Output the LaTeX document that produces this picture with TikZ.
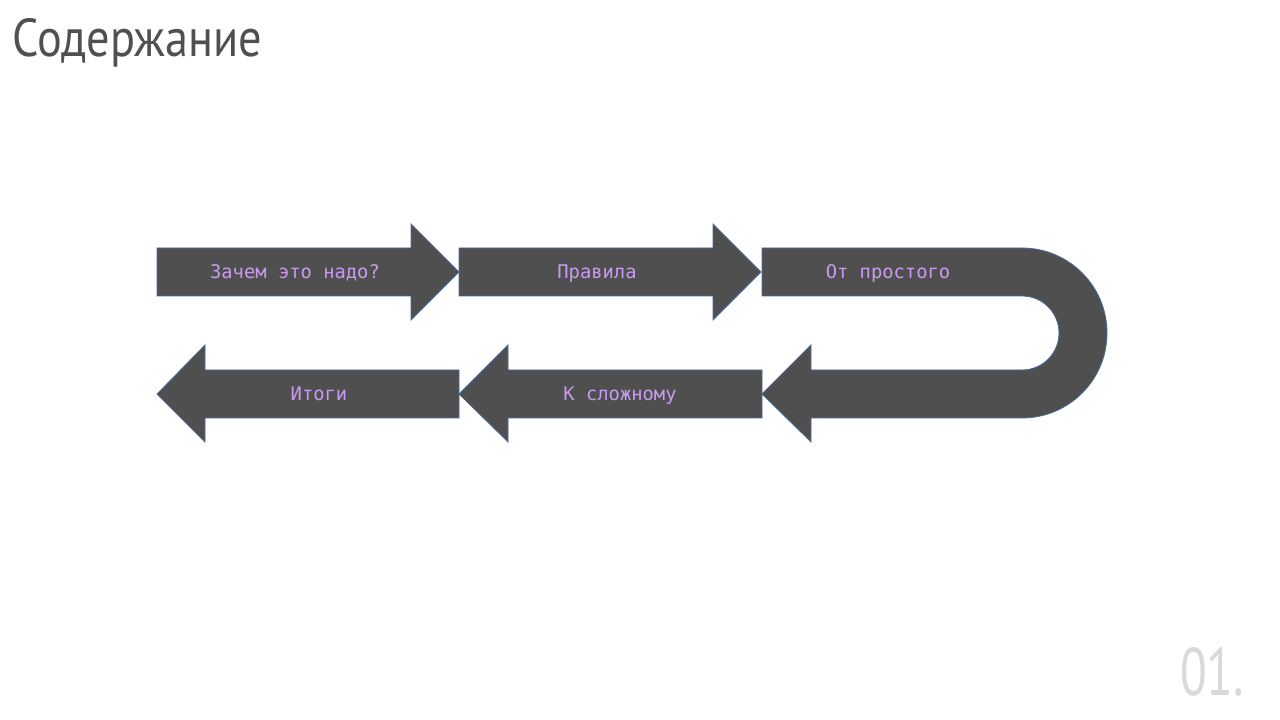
\documentclass[tikz,border=0pt]{standalone}
\usepackage{fontspec}
\usepackage{graphicx}
\setmainfont{PT Sans}
\newfontfamily\labelfont{DejaVu Sans Mono}
\definecolor{bandfill}{HTML}{4F4F4F}
\definecolor{bandedge}{HTML}{4A6A9C}
\definecolor{labeltext}{HTML}{C79CF0}
\definecolor{titletext}{HTML}{505050}
\definecolor{pagetext}{HTML}{D9D9D9}
\tikzset{
  band/.style={fill=bandfill, draw=bandedge, line width=0.8pt, line join=miter},
  steplabel/.style={font=\labelfont\fontsize{18.8}{20}\selectfont, text=labeltext,
    inner sep=0pt, anchor=base},
}
\begin{document}
\begin{tikzpicture}[x=1pt,y=1pt]
  \useasboundingbox (0,0) rectangle (1280,720);
  \fill[white] (0,0) rectangle (1280,720);

  % title and page number
  \node[anchor=base west, inner sep=0pt, text=titletext] (title) at (12,663)
    {\resizebox{250pt}{38pt}{Содержание}};
  \node[anchor=base west, inner sep=0pt, text=pagetext] (pagenum) at (1180,24)
    {\resizebox{64pt}{48pt}{01.}};

  % top row, pointing right
  \draw[band] (157,472) -- (411,472) -- (411,496) -- (459,448) -- (411,400)
    -- (411,424) -- (157,424) -- cycle;
  \draw[band] (459,472) -- (713,472) -- (713,496) -- (761,448) -- (713,400)
    -- (713,424) -- (459,424) -- cycle;

  % U-turn band
  \draw[band] (762,472) -- (1022,472) arc[start angle=90, end angle=-90, radius=85]
    -- (811,302) -- (811,278) -- (762,326) -- (811,375) -- (811,350)
    -- (1022,350) arc[start angle=-90, end angle=90, radius=37]
    -- (762,424) -- cycle;

  % bottom row, pointing left
  \draw[band] (762,350) -- (508,350) -- (508,375) -- (459,326) -- (508,278)
    -- (508,302) -- (762,302) -- cycle;
  \draw[band] (459,350) -- (205,350) -- (205,375) -- (157,326) -- (205,278)
    -- (205,302) -- (459,302) -- cycle;

  % step labels, set on a common baseline per row
  \node[steplabel] (s1) at (295,441) {Зачем это надо?};
  \node[steplabel] (s2) at (597,441) {Правила};
  \node[steplabel] (s3) at (888,441) {От простого};
  \node[steplabel] (s4) at (620,319) {К сложному};
  \node[steplabel] (s5) at (319,319) {Итоги};
\end{tikzpicture}
\end{document}
